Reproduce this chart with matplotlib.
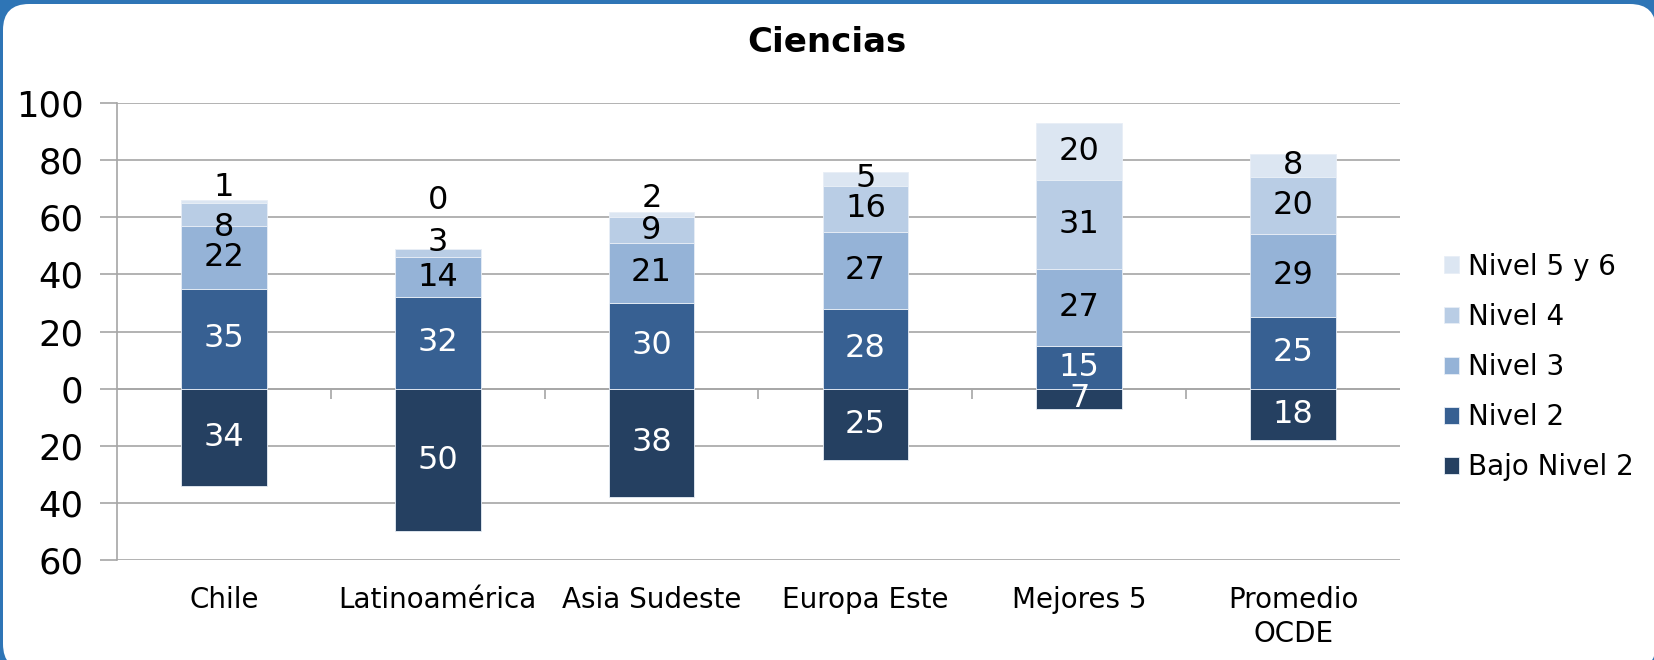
import numpy as np
import matplotlib
matplotlib.use('Agg')
from matplotlib import pyplot as plt
from matplotlib.patches import FancyBboxPatch

categories = ['Chile', 'Latinoamérica', 'Asia Sudeste', 'Europa Este', 'Mejores 5', 'Promedio\nOCDE']
bajo_nivel_2 = [34, 50, 38, 25, 7, 18]
nivel_2 = [35, 32, 30, 28, 15, 25]
nivel_3 = [22, 14, 21, 27, 27, 29]
nivel_4 = [8, 3, 9, 16, 31, 20]
nivel_5_6 = [1, 0, 2, 5, 20, 8]

series_names = ['Nivel 2', 'Nivel 3', 'Nivel 4', 'Nivel 5 y 6']
series_colors = ['#376092', '#95B3D7', '#B9CDE5', '#DCE6F2']
series_text = ['white', 'black', 'black', 'black']
bajo_color = '#254061'

# labels that were pulled off-centre in the original slide (data units)
nudge = {(0, 'Nivel 4'): -4.5, (0, 'Nivel 5 y 6'): 5.0,
         (1, 'Nivel 4'): 3.5, (1, 'Nivel 5 y 6'): 17.0,
         (2, 'Nivel 5 y 6'): 5.5}

W, H = 1654, 660
fig = plt.figure(figsize=(W / 100, H / 100), dpi=100)
fig.patch.set_facecolor('#2E75B6')

# white rounded slide panel, in pixel units
bg = fig.add_axes([0, 0, 1, 1], zorder=-5)
bg.set_xlim(0, W)
bg.set_ylim(0, H)
bg.axis('off')
bg.add_patch(FancyBboxPatch((3, -10), W - 1, H - 4 + 10,
                            boxstyle='round,pad=0,rounding_size=26',
                            facecolor='white', edgecolor='none'))

ax = fig.add_axes([117 / W, 100 / H, (1400 - 117) / W, (557 - 100) / H])
ax.set_facecolor('none')
x = np.arange(len(categories))
bw = 0.4
grid_c = '#A6A6A6'

ax.set_ylim(-60, 100)
ax.set_xlim(-0.5, len(categories) - 0.5)
yt = np.arange(-60, 101, 20)
ax.set_yticks(yt)
ax.set_yticklabels([str(abs(v)) for v in yt], fontsize=25.5)
ax.yaxis.grid(True, color=grid_c, lw=1.2)
ax.set_axisbelow(True)
ax.tick_params(axis='y', length=12, width=1.2, color=grid_c, pad=12)
ax.set_xticks(x)
ax.set_xticklabels(categories, fontsize=20, linespacing=1.25, va='top')
ax.tick_params(axis='x', length=0, pad=19)
for s in ['top', 'right', 'bottom']:
    ax.spines[s].set_visible(False)
ax.spines['left'].set_color(grid_c)
ax.spines['left'].set_linewidth(1.2)

ax.axhline(0, color=grid_c, lw=1.2, zorder=1)
ax.vlines(np.arange(1, len(categories)) - 0.5, -3.5, 0, color=grid_c, lw=1.2, zorder=1)

handles = []
bajo_handle = ax.bar(x, [-v for v in bajo_nivel_2], bw, color=bajo_color,
                     edgecolor='#E8EEF6', lw=0.6, zorder=3)
for i, v in enumerate(bajo_nivel_2):
    ax.text(x[i], -v / 2, str(v), ha='center', va='center', color='white',
            fontsize=23, zorder=5)

bottom = np.zeros(len(categories))
for vals, name, col, tc in zip([nivel_2, nivel_3, nivel_4, nivel_5_6], series_names,
                               series_colors, series_text):
    vals = np.array(vals, dtype=float)
    h = ax.bar(x, vals, bw, bottom=bottom, color=col, edgecolor='#E8EEF6', lw=0.6,
               zorder=3, label=name)
    handles.append(h)
    for i, v in enumerate(vals):
        yc = bottom[i] + v / 2 + nudge.get((i, name), 0)
        ax.text(x[i], yc, '%d' % v, ha='center', va='center', color=tc,
                fontsize=23, zorder=5)
    bottom += vals

leg_handles = handles[::-1] + [bajo_handle]
leg_labels = series_names[::-1] + ['Bajo Nivel 2']
fig.legend(leg_handles, leg_labels, loc='center left', bbox_to_anchor=(0.873, 0.444),
           frameon=False, fontsize=20, handlelength=0.55, handleheight=0.55,
           handletextpad=0.3, labelspacing=0.8, borderpad=0, borderaxespad=0)

fig.text(0.5, 1 - 43 / H, 'Ciencias', ha='center', va='center', fontsize=24.5,
         fontweight='bold')

fig.savefig('out.png', dpi=100, facecolor=fig.get_facecolor())
